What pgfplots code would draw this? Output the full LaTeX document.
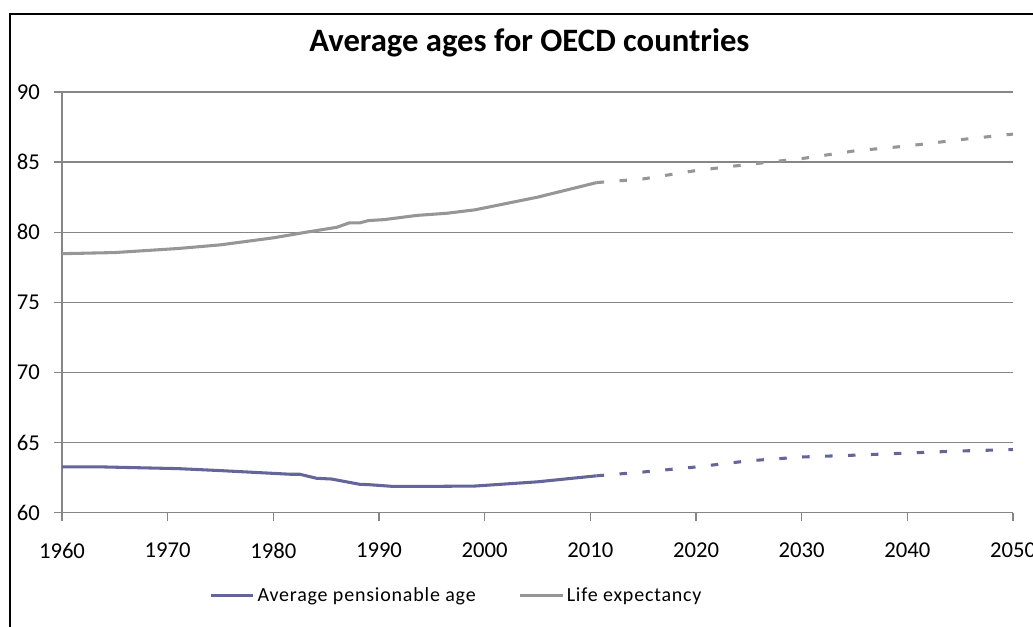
\documentclass[border=0pt]{standalone}
\usepackage{pgfplots}
\pgfplotsset{compat=1.18}
\usepackage{fontspec}
\setmainfont{Carlito}
\newfontfamily\legfont[LetterSpace=4]{Carlito}
\definecolor{pens}{RGB}{100,102,154}
\definecolor{life}{RGB}{150,150,150}
\definecolor{gridc}{RGB}{134,134,134}
\begin{document}
\begin{tikzpicture}
\useasboundingbox (-46.5pt,-85pt) rectangle (728.25pt,384.5pt);
\draw[line width=1.3pt] (-39pt,-95pt) rectangle (740pt,374pt);
\begin{axis}[
  at={(0,0)}, anchor=south west,
  scale only axis, width=713.25pt, height=315.5pt,
  xmin=1960, xmax=2050, ymin=60, ymax=90,
  xtick={1960,1970,...,2050}, ytick={60,65,...,90},
  /pgf/number format/1000 sep={},
  /pgf/number format/assume math mode=true,
  ticklabel style={font=\fontsize{17}{20}\selectfont},
  xticklabel style={yshift=-13pt},
  yticklabel style={xshift=-7pt},
  ymajorgrids, major grid style={gridc, line width=1pt},
  axis line style={gridc, line width=1pt},
  tick style={gridc, line width=1pt},
  major tick length=6pt, tick align=outside,
  xtick pos=bottom, ytick pos=left,
  axis x line*=bottom, axis y line*=left,
  separate axis lines,
  legend style={at={(0.415,-0.196)}, anchor=center, draw=none, fill=none,
    font=\legfont\fontsize{15}{18}\selectfont, legend columns=2,
    /tikz/every even column/.append style={column sep=30pt}},
  legend image code/.code={\draw[#1, solid] (0pt,0pt) -- (32pt,0pt);},
]
\addplot[pens, line width=2.3pt] coordinates {
(1960,63.26) (1964,63.26) (1971,63.14) (1975,63.0) (1981.6,62.74) (1982.5,62.74) (1984.1,62.45) (1985.5,62.4) (1988.2,62.02) (1989,62.0) (1991.2,61.88) (1995.8,61.88) (1999.1,61.9) (2005,62.2) (2010.6,62.63)
};
\addlegendentry{Average pensionable age}
\addplot[life, line width=2.3pt] coordinates {
(1960,78.47) (1965,78.55) (1971,78.84) (1975,79.1) (1980,79.6) (1983.1,80.0) (1986,80.35) (1987.2,80.67) (1988.2,80.67) (1989,80.83) (1990.5,80.9) (1993.6,81.2) (1996.4,81.35) (1999.1,81.6) (2005,82.5) (2010.6,83.54)
};
\addlegendentry{Life expectancy}
\addplot[pens, line width=2.3pt, dash pattern=on 5.6pt off 11.6pt, forget plot] coordinates {
(2010.6,62.63) (2015,62.9) (2020,63.26) (2025,63.7) (2030,63.97) (2035,64.1) (2040,64.25) (2045,64.4) (2050,64.5)
};
\addplot[life, line width=2.3pt, dash pattern=on 5.6pt off 11.6pt, forget plot] coordinates {
(2010.6,83.54) (2015,83.8) (2020,84.4) (2025,84.84) (2030,85.25) (2035,85.8) (2040,86.15) (2045,86.6) (2050,87.0)
};
\end{axis}
\node[anchor=base, font=\bfseries\fontsize{24.5}{28}\selectfont] at (350.6pt,345.5pt) {Average ages for OECD countries};
\end{tikzpicture}
\end{document}
